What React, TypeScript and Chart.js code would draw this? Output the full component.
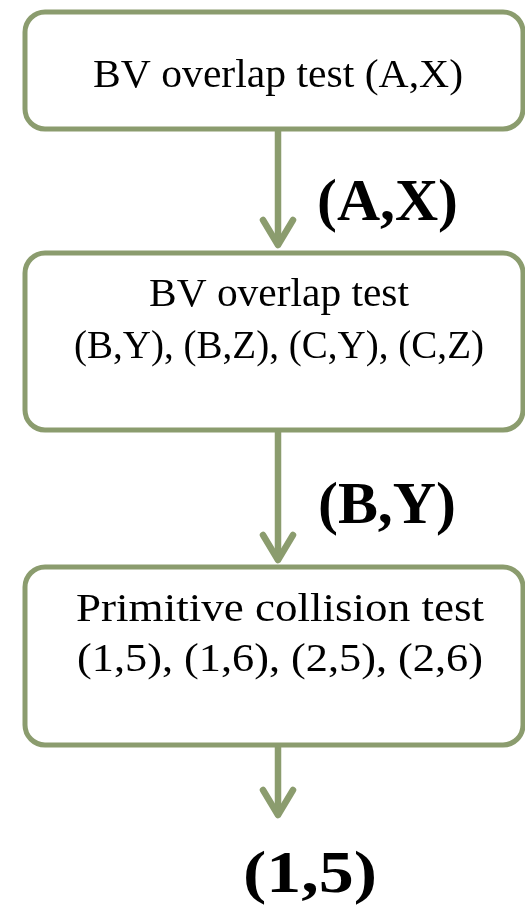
import React, { useEffect, useRef } from "react";
import { Chart, registerables } from "chart.js";

Chart.register(...registerables);

// ---- content (data) ----
const stepTitles: string[] = ["BV overlap test (A,X)", "BV overlap test", "Primitive collision test"];
const stepPairs: string[] = ["", "(B,Y), (B,Z), (C,Y), (C,Z)", "(1,5), (1,6), (2,5), (2,6)"];
const edgeLabels: string[] = ["(A,X)", "(B,Y)", "(1,5)"];

// ---- layout (positions in chart units, separate from data) ----
const W = 525;
const H = 905;
const layout = {
  boxLeft: 25,
  boxRight: 523,
  boxTop: [12, 253, 567],
  boxBottom: [129, 430, 745],
  titleBaseline: [87, 306, 621],
  pairsBaseline: [0, 358, 671],
  titleWidth: [370, 260, 408],
  pairsWidth: [0, 410, 406],
  textCenterX: [278, 279, 280],
  arrowX: 278,
  arrowTip: [247, 562, 817],
  labelLeft: [317, 318, 243],
  labelWidth: [141, 138, 134],
  labelBaseline: [220, 523, 892],
};

const GREEN = "rgb(139,156,110)";

function fitText(ctx: CanvasRenderingContext2D, text: string, left: number, baseline: number, width: number) {
  const m = ctx.measureText(text).width;
  const s = width / m;
  ctx.save();
  ctx.translate(left, baseline);
  ctx.scale(s, 1);
  ctx.textAlign = "left";
  ctx.fillText(text, 0, 0);
  ctx.restore();
}

const flowPlugin = {
  id: "flow",
  beforeDraw(chart: any) {
    const { ctx } = chart;
    ctx.save();
    ctx.fillStyle = "#ffffff";
    ctx.fillRect(0, 0, chart.width, chart.height);
    ctx.restore();
  },
  afterDraw(chart: any) {
    const { ctx } = chart;
    const xs = chart.scales.x;
    const ys = chart.scales.y;
    const px = (v: number) => xs.getPixelForValue(v);
    const py = (v: number) => ys.getPixelForValue(v);

    ctx.save();
    // arrows
    ctx.strokeStyle = GREEN;
    ctx.lineWidth = 6.5;
    ctx.lineCap = "round";
    ctx.lineJoin = "round";
    stepTitles.forEach((_, i) => {
      const x = px(layout.arrowX);
      const y0 = py(layout.boxBottom[i]);
      const tip = py(layout.arrowTip[i]);
      ctx.beginPath();
      ctx.moveTo(x, y0);
      ctx.lineTo(x, tip - 3);
      ctx.stroke();
      ctx.beginPath();
      ctx.moveTo(x - 15, tip - 27);
      ctx.lineTo(x, tip - 2);
      ctx.lineTo(x + 15, tip - 27);
      ctx.stroke();
    });

    // boxes
    stepTitles.forEach((_, i) => {
      const l = px(layout.boxLeft);
      const r = px(layout.boxRight);
      const t = py(layout.boxTop[i]);
      const b = py(layout.boxBottom[i]);
      ctx.beginPath();
      ctx.roundRect(l, t, r - l, b - t, 20);
      ctx.fillStyle = "#ffffff";
      ctx.fill();
      ctx.lineWidth = 5;
      ctx.strokeStyle = GREEN;
      ctx.stroke();
    });

    // box text
    ctx.fillStyle = "#000000";
    ctx.textBaseline = "alphabetic";
    ctx.font = "41px 'Liberation Serif'";
    stepTitles.forEach((title, i) => {
      const cx = px(layout.textCenterX[i]);
      const tw = layout.titleWidth[i];
      fitText(ctx, title, cx - tw / 2, py(layout.titleBaseline[i]), tw);
      if (stepPairs[i]) {
        const pw = layout.pairsWidth[i];
        fitText(ctx, stepPairs[i], cx - pw / 2, py(layout.pairsBaseline[i]), pw);
      }
    });

    // edge labels
    ctx.font = "bold 60px 'Liberation Serif'";
    edgeLabels.forEach((lab, i) => {
      fitText(ctx, lab, px(layout.labelLeft[i]), py(layout.labelBaseline[i]), layout.labelWidth[i]);
    });
    ctx.restore();
  },
};

export default function App() {
  const ref = useRef<HTMLCanvasElement | null>(null);
  useEffect(() => {
    if (!ref.current) return;
    const chart = new Chart(ref.current, {
      type: "scatter",
      data: {
        datasets: [
          {
            data: layout.arrowTip.map((y) => ({ x: layout.arrowX, y })),
            pointRadius: 0,
            showLine: false,
          },
        ],
      },
      options: {
        responsive: false,
        animation: false,
        events: [],
        layout: { padding: 0 },
        plugins: { legend: { display: false }, tooltip: { enabled: false } },
        scales: {
          x: { type: "linear", min: 0, max: W, display: false },
          y: { type: "linear", min: 0, max: H, reverse: true, display: false },
        },
      },
      plugins: [flowPlugin],
    });
    return () => chart.destroy();
  }, []);
  return (
    <div style={{ position: "absolute", left: 0, top: 0, width: W, height: H }}>
      <canvas ref={ref} width={W} height={H} style={{ display: "block" }} />
    </div>
  );
}
